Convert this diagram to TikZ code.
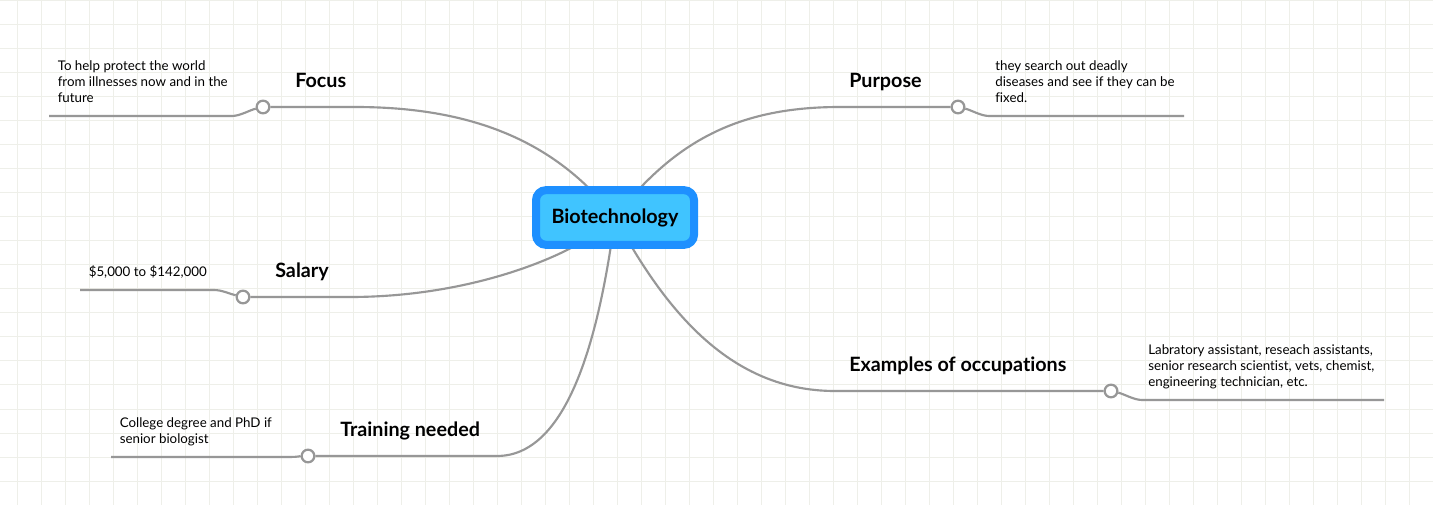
\documentclass[tikz,border=0pt]{standalone}
\usepackage{fontspec}
\setmainfont{Lato}[Ligatures=CommonOff]
\usetikzlibrary{backgrounds}
\definecolor{gridgreen}{RGB}{238,239,233}
\definecolor{linegrey}{RGB}{151,151,151}
\definecolor{hubfill}{RGB}{64,196,255}
\definecolor{hubedge}{RGB}{30,144,255}
\tikzset{
  hubnode/.style={draw=hubedge, fill=hubfill, line width=6pt, rounded corners=7.5pt, minimum width=118.5pt, minimum height=41pt, inner sep=0pt, font=\fontsize{14.8pt}{16pt}\selectfont\bfseries},
  topic/.style={anchor=north west, inner sep=0.75pt, font=\fontsize{14.8pt}{16pt}\selectfont\bfseries},
  detail/.style={anchor=north west, inner sep=0pt, align=left, font=\fontsize{10pt}{12pt}\selectfont},
  knob/.style={circle, draw=linegrey, fill=white, line width=1.7pt, minimum size=9.5pt, inner sep=0pt},
  branch/.style={draw=linegrey, line width=1.6pt},
}
\begin{document}
\begin{tikzpicture}[x=0.75pt,y=0.75pt,yscale=-1,xscale=1]
    \useasboundingbox (0,0) rectangle (1433,505);

    % Hub
    \node [hubnode] (hub) at (615,217.5) {Biotechnology};
    % Knobs
    \node [knob] (focus) at (263,107) {};
    \node [knob] (purpose) at (958,107) {};
    \node [knob] (salary) at (243,297) {};
    \node [knob] (training) at (308,456) {};
    \node [knob] (examples) at (1111,391) {};
    % Free ends
    \coordinate (focusend) at (49,116);
    \coordinate (purposeend) at (1184,116);
    \coordinate (salaryend) at (80,290);
    \coordinate (trainingend) at (111,457);
    \coordinate (examplesend) at (1384,400);

    % Text Node
    \node [topic] (focustext) at (294,72) {Focus};
    \node [topic] (purposetext) at (848,72) {Purpose};
    \node [topic] (salarytext) at (274,262) {Salary};
    \node [topic] (trainingtext) at (339,421) {Training needed};
    \node [topic] (examplestext) at (848,356) {Examples of occupations};
    % Text Node
    \node [detail] (focusnote) at (57.5,60.5) {To help protect the world\\from illnesses now and in the\\future};
    \node [detail] (purposenote) at (995,60.5) {they search out deadly\\diseases and see if they can be\\fixed.};
    \node [detail] (salarynote) at (88.5,265.5) {\$5,000 to \$142,000};
    \node [detail] (trainingnote) at (119.5,417.5) {College degree and PhD if\\senior biologist};
    \node [detail] (examplesnote) at (1148,344.5) {Labratory assistant, reseach assistants,\\senior research scientist, vets, chemist,\\engineering technician, etc.};

    \begin{pgfonlayer}{background}
    \fill [white] (0,0) rectangle (1433,505);
    % Grid
    \foreach \gx in {0,...,58} {
      \draw [gridgreen, line width=0.75pt] (17+24*\gx,0) -- (17+24*\gx,505);
    }
    \foreach \gy in {0,...,21} {
      \draw [gridgreen, line width=0.75pt] (0,1+24*\gy) -- (1433,1+24*\gy);
    }
    % Connection
    \draw [branch] (hub.center) .. controls (555,140) and (470,107) .. (355,107) -- (focus);
    \draw [branch] (hub.center) .. controls (675,140) and (740,107) .. (840,107) -- (purpose);
    \draw [branch] (hub.center) .. controls (585,250) and (480,297) .. (350,297) -- (salary);
    \draw [branch] (hub.center) .. controls (600,330) and (570,456) .. (497,456) -- (training);
    \draw [branch] (hub.center) .. controls (665,310) and (730,391) .. (835,391) -- (examples);
    % Leaves
    \draw [branch] (focus) .. controls (250,110) and (240,116) .. (232,116) -- (focusend);
    \draw [branch] (purpose) .. controls (971,110) and (981,116) .. (989,116) -- (purposeend);
    \draw [branch] (salary) .. controls (230,294) and (222,290) .. (214,290) -- (salaryend);
    \draw [branch] (training) .. controls (302,456) and (297,457) .. (290,457) -- (trainingend);
    \draw [branch] (examples) .. controls (1124,394) and (1134,400) .. (1142,400) -- (examplesend);
    \end{pgfonlayer}
\end{tikzpicture}
\end{document}
